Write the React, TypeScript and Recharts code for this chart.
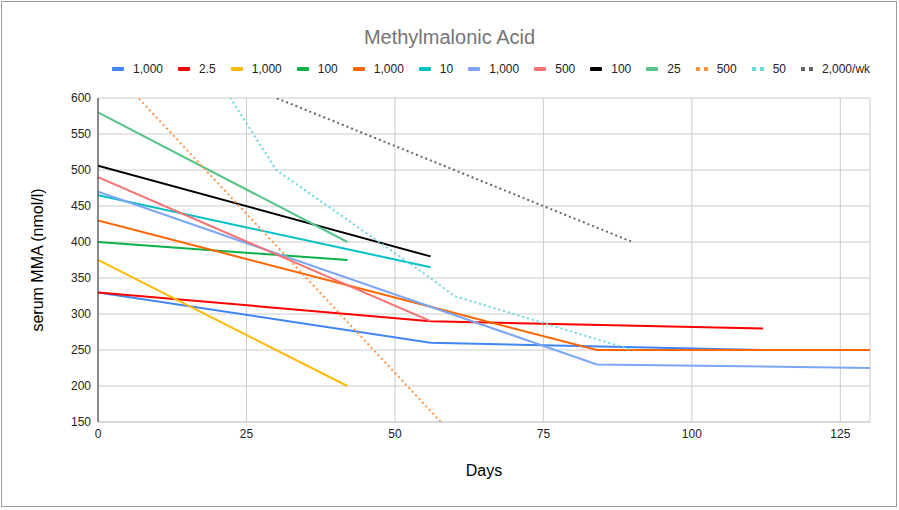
import React from 'react';
import { LineChart, Line, XAxis, YAxis, CartesianGrid, Legend } from 'recharts';

// x = days, y = serum MMA (nmol/l), one small array per series
const blue1000 = [[0, 330], [56, 260], [112, 250]];
const red25 = [[0, 330], [56, 290], [112, 280]];
const yellow1000 = [[0, 375], [42, 200]];
const green100 = [[0, 400], [42, 375]];
const orange1000 = [[0, 430], [56, 310], [84, 250], [130, 250]];
const cyan10 = [[0, 465], [56, 365]];
const lightBlue1000 = [[0, 470], [56, 310], [84, 230], [130, 225]];
const pink500 = [[0, 490], [56, 290]];
const black100 = [[0, 506], [56, 380]];
const mint25 = [[0, 580], [42, 400]];
const orangeDot500 = [[0, 660], [60, 130]];
const cyanDot50 = [[20, 630], [30, 500], [56, 350], [60, 325], [90, 250]];
const grayDot2000 = [[27, 610], [90, 400]];

const seriesLabels = ['1,000', '2.5', '1,000', '100', '1,000', '10', '1,000', '500', '100', '25', '500', '50', '2,000/wk'];
const seriesColors = ['#4285f4', '#ff0000', '#fbbc04', '#0db14b', '#ff6600', '#00c1c8', '#7ba6f7', '#f67272', '#000000', '#57c48a', '#ff9447', '#6ad8df', '#666666'];
const seriesDotted = [false, false, false, false, false, false, false, false, false, false, true, true, true];
const seriesPoints = [blue1000, red25, yellow1000, green100, orange1000, cyan10, lightBlue1000, pink500, black100, mint25, orangeDot500, cyanDot50, grayDot2000];

const xTicks = [0, 25, 50, 75, 100, 125];
const yTicks = [150, 200, 250, 300, 350, 400, 450, 500, 550, 600];

const FONT = 'Arial, "Liberation Sans", sans-serif';

const series = seriesLabels.map((label, i) => ({
  key: `s${i}`,
  label,
  color: seriesColors[i],
  dotted: seriesDotted[i],
  data: seriesPoints[i].map(([day, mma]) => ({ day, mma })),
}));

const LegendContent = () => (
  <div style={{ display: 'flex', alignItems: 'center', fontFamily: FONT, fontSize: 12, color: '#222', lineHeight: '14px', whiteSpace: 'nowrap' }}>
    {series.map(s => (
      <div key={s.key} style={{ display: 'flex', alignItems: 'center', marginRight: 15 }}>
        <svg width={12} height={4} style={{ marginRight: 9 }}>
          {s.dotted ? (
            <>
              <rect x={0} y={0} width={4} height={4} fill={s.color} />
              <rect x={8} y={0} width={4} height={4} fill={s.color} />
            </>
          ) : (
            <rect x={0} y={0} width={12} height={4} rx={1} fill={s.color} />
          )}
        </svg>
        <span>{s.label}</span>
      </div>
    ))}
  </div>
);

export default function App() {
  return (
    <div style={{ position: 'absolute', left: 0, top: 0, width: 899, height: 510, background: '#fff' }}>
      <div style={{ position: 'absolute', left: 1, top: 1, width: 896, height: 506, border: '1px solid #9e9e9e', boxSizing: 'border-box' }} />
      <div style={{ position: 'absolute', left: 0, top: 25, width: 899, textAlign: 'center', fontFamily: FONT, fontSize: 20, color: '#757575', lineHeight: '24px' }}>
        Methylmalonic Acid
      </div>
      <LineChart width={899} height={510} margin={{ top: 98, right: 29, bottom: 0, left: 0 }} style={{ position: 'absolute', left: 0, top: 0 }}>
        <CartesianGrid stroke="#cccccc" />
        <XAxis
          type="number"
          dataKey="day"
          domain={[0, 130]}
          ticks={xTicks}
          allowDataOverflow
          height={88}
          axisLine={{ stroke: '#cccccc' }}
          tickLine={false}
          tickSize={0}
          tickMargin={7}
          tick={{ fill: '#222', fontSize: 12, fontFamily: FONT }}
          label={{ value: 'Days', position: 'insideTop', offset: 43, fill: '#000', fontSize: 16, fontFamily: FONT }}
        />
        <YAxis
          type="number"
          dataKey="mma"
          domain={[150, 600]}
          ticks={yTicks}
          allowDataOverflow
          width={98}
          axisLine={{ stroke: '#333333' }}
          tickLine={false}
          tickSize={0}
          tickMargin={7}
          tick={{ fill: '#222', fontSize: 12, fontFamily: FONT }}
          label={{ value: 'serum MMA (nmol/l)', angle: -90, position: 'insideLeft', offset: 37, fill: '#000', fontSize: 16, fontFamily: FONT, style: { textAnchor: 'middle' } }}
        />
        <Legend
          layout="horizontal"
          verticalAlign="middle"
          align="center"
          wrapperStyle={{ top: 62, left: 112, width: 780 }}
          content={<LegendContent />}
        />
        {series.map(s => (
          <Line
            key={s.key}
            data={s.data}
            dataKey="mma"
            name={s.label}
            type="linear"
            stroke={s.color}
            strokeWidth={2}
            strokeDasharray={s.dotted ? '2 3' : undefined}
            dot={false}
            activeDot={false}
            isAnimationActive={false}
          />
        ))}
      </LineChart>
    </div>
  );
}
